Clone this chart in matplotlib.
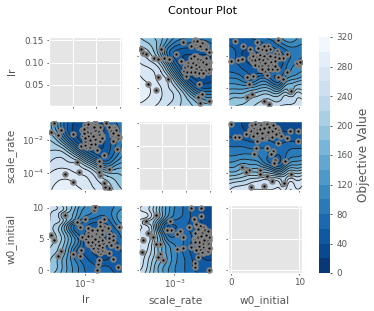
"""Contour plot matrix of three hyperparameters against the objective value."""
import matplotlib
matplotlib.use("Agg")
import matplotlib.pyplot as plt
import numpy as np
from matplotlib.ticker import NullFormatter, NullLocator
from matplotlib.tri import CubicTriInterpolator, Triangulation, UniformTriRefiner

W, H = 374, 311

# axis limits: log10 for lr and scale_rate, plain values for w0_initial
lr_lim = (-4.06, -1.91)
scale_lim = (-5.03, -0.85)
w0_lim = (-0.4, 10.4)

# trial points, read per pair of parameters (log10 for lr and scale_rate)
a_scale = [-4.91, -4.82, -4.63, -4.15, -3.77, -3.96, -3.58, -3.29, -2.91, -2.53, -1.80, -1.57, -1.38, -1.19,
           -1.00, -2.62, -3.96, -3.35, -4.53, -4.05, -2.34, -1.61, -1.42, -1.67, -1.42, -1.53, -1.00,
           -2.34, -2.14, -1.95, -1.76, -1.57, -1.38, -1.19, -1.00, -1.09, -1.28, -1.48, -1.67, -1.86, -2.05,
           -2.24, -1.95, -1.67, -1.38, -1.09, -2.43, -1.76, -1.76, -1.67, -1.48, -1.28, -1.86, -2.05, -1.19,
           -2.05, -1.86, -1.66, -1.48, -1.28, -1.10, -2.24, -1.95, -1.78, -1.58, -1.38, -1.19, -2.40, -2.24,
           -2.03, -1.78, -1.50, -1.20, -1.02, -2.30, -2.05, -1.85, -1.60, -1.35, -1.60, -1.70, -1.40, -1.55]
a_lr = [-2.29, -2.42, -2.44, -2.55, -2.29, -2.60, -2.57, -2.60, -2.44, -2.08, -2.01, -2.13, -2.24, -2.18,
        -2.39, -2.65, -3.17, -3.22, -3.36, -3.57, -3.12, -3.36, -3.09, -3.77, -3.69, -3.98, -3.90,
        -2.76, -2.86, -2.60, -2.50, -2.55, -2.60, -2.55, -2.70, -2.86, -2.81, -2.76, -2.70, -2.81, -2.70,
        -2.91, -2.96, -2.91, -2.94, -3.01, -2.96, -3.07, -2.13, -2.21, -2.24, -2.13, -2.05, -2.18, -2.29,
        -2.55, -2.50, -2.60, -2.62, -2.68, -2.72, -2.72, -2.72, -2.78, -2.85, -2.70, -2.74, -2.85, -2.82,
        -2.86, -2.92, -2.94, -2.93, -2.92, -3.00, -3.00, -3.00, -3.02, -3.04, -2.10, -2.05, -2.10, -2.20]

b_w0 = [0.62, 0.03, 1.10, 1.59, 1.83, 2.81, 3.78, 5.48, 6.94, 8.15, 7.67, 9.85, 9.61, 10.1, 8.15, 7.67, 6.94,
        2.32, 3.29, 2.66, 8.78, 2.32, 3.15, 4.89, 5.58, 5.24, 4.02, 4.51, 5.72, 6.69,
        3.05, 3.53, 4.02, 4.51, 4.99, 5.48, 6.21, 6.94, 3.29, 3.78, 4.26, 4.75, 5.24, 5.72, 4.26, 4.99, 5.96,
        6.69, 2.81, 6.45, 4.51,
        3.3, 3.8, 4.3, 4.8, 5.3, 5.8, 6.5, 7.0, 3.1, 3.6, 4.1, 4.7, 5.2, 5.9, 6.5, 3.6, 4.1, 4.5, 5.0, 5.5,
        6.2, 4.5, 5.4, 6.5, 4.0, 4.9, 5.2]
b_lr = [-2.03, -2.65, -2.63, -2.58, -2.18, -2.29, -2.08, -2.18, -2.01, -2.44, -2.55, -2.78, -2.73, -2.70,
        -3.01, -3.22, -3.15, -3.15, -3.12, -3.36, -3.59, -3.79, -3.69, -3.90, -4.00, -3.09, -2.24, -2.29,
        -2.29, -2.34, -2.44, -2.55, -2.50, -2.44, -2.55, -2.60, -2.60, -2.44, -2.70, -2.76, -2.70, -2.76,
        -2.81, -2.76, -2.91, -2.96, -2.91, -2.91, -2.55, -2.44, -2.60,
        -2.50, -2.52, -2.48, -2.50, -2.60, -2.50, -2.52, -2.55, -2.62, -2.62, -2.60, -2.62, -2.68, -2.68,
        -2.66, -2.78, -2.82, -2.80, -2.72, -2.82, -2.78, -2.90, -2.92, -2.80, -2.25, -2.20, -2.30]

c_w0 = [0.03, 0.62, 1.20, 2.17, 2.95, 4.89, 5.72, 6.69, 8.63, 9.85, 8.15, 6.94, 9.85, 3.78, 3.63, 3.44, 5.24,
        6.21, 5.87, 6.45, 7.91, 6.35, 1.59, 2.66, 2.17, 4.26, 4.26, 8.78, 5.96, 7.81, 2.95, 4.89, 5.24,
        3.29, 3.78, 4.26, 4.75, 5.24, 5.48, 5.96, 4.02, 4.51, 6.45, 7.18, 2.81, 5.72, 6.94, 3.53, 4.99,
        3.1, 3.6, 4.4, 4.9, 5.3, 3.0, 3.4, 3.9, 4.3, 4.8, 5.6, 6.0, 6.5, 7.0, 4.5, 5.0, 5.3, 6.0, 6.6, 7.4,
        5.5, 4.6, 3.2, 6.2]
c_scale = [-1.03, -1.84, -1.84, -1.64, -1.11, -1.03, -1.07, -1.28, -1.48, -1.48, -1.88, -2.19, -2.08, -2.08,
           -2.49, -2.85, -2.49, -2.69, -2.85, -3.20, -3.26, -3.40, -3.66, -3.80, -3.94, -3.80, -4.06, -4.06,
           -4.51, -4.61, -4.87, -4.81, -4.21,
           -1.28, -1.38, -1.18, -1.48, -1.58, -1.28, -1.68, -1.68, -1.78, -1.58, -1.78, -1.38, -1.48, -1.38,
           -1.03, -1.88,
           -1.10, -1.05, -1.10, -1.15, -1.05, -1.45, -1.55, -1.60, -1.35, -1.30, -1.20, -1.45, -1.25, -1.55,
           -1.60, -1.75, -1.65, -1.80, -1.65, -1.75, -1.50, -1.85, -1.75, -1.10]

# objective read on an 11x11 raster of each pair panel, top row first
field_a = [[200, 190, 180, 165, 140, 120, 105, 100, 90, 90, 100],
           [215, 205, 190, 160, 120, 90, 80, 75, 70, 70, 80],
           [235, 225, 200, 150, 90, 60, 50, 50, 50, 50, 60],
           [250, 240, 220, 175, 105, 55, 40, 35, 35, 35, 40],
           [265, 255, 245, 215, 150, 80, 45, 35, 35, 35, 35],
           [275, 270, 260, 240, 190, 120, 60, 35, 30, 30, 35],
           [285, 275, 265, 250, 230, 170, 100, 50, 35, 30, 35],
           [290, 285, 270, 258, 240, 210, 155, 95, 55, 45, 50],
           [290, 285, 275, 262, 248, 232, 200, 150, 105, 85, 85],
           [285, 280, 272, 260, 248, 235, 215, 190, 160, 135, 130],
           [275, 272, 262, 252, 238, 228, 215, 205, 190, 175, 180]]
field_b = [[60, 50, 50, 60, 70, 80, 90, 110, 140, 130, 110],
           [60, 50, 50, 50, 50, 60, 70, 90, 110, 110, 100],
           [70, 60, 40, 40, 40, 40, 50, 60, 80, 90, 90],
           [70, 60, 40, 40, 40, 40, 40, 50, 70, 90, 100],
           [70, 65, 50, 40, 40, 40, 40, 50, 80, 100, 110],
           [80, 75, 65, 55, 50, 50, 60, 65, 90, 110, 120],
           [100, 100, 85, 70, 90, 100, 70, 70, 120, 135, 150],
           [125, 125, 120, 120, 135, 145, 120, 110, 165, 175, 185],
           [150, 155, 155, 170, 180, 190, 175, 175, 195, 205, 210],
           [175, 185, 185, 200, 210, 220, 215, 215, 230, 235, 240],
           [190, 200, 205, 215, 225, 235, 235, 240, 245, 250, 255]]
field_c = [[50, 45, 40, 35, 30, 30, 30, 30, 30, 25, 25],
           [55, 50, 40, 35, 30, 30, 35, 35, 35, 35, 35],
           [60, 55, 50, 40, 40, 40, 40, 45, 45, 45, 45],
           [70, 65, 65, 60, 60, 65, 60, 55, 60, 60, 60],
           [85, 85, 85, 80, 80, 80, 70, 65, 75, 80, 80],
           [100, 100, 105, 105, 100, 85, 70, 60, 85, 95, 100],
           [120, 125, 135, 130, 125, 95, 70, 60, 105, 125, 130],
           [150, 150, 165, 165, 165, 155, 130, 110, 160, 170, 175],
           [180, 185, 195, 205, 205, 210, 205, 195, 215, 220, 225],
           [215, 225, 230, 240, 245, 250, 245, 240, 250, 255, 255],
           [235, 250, 255, 260, 265, 265, 265, 265, 270, 270, 270]]

# single trials that stand out from their surroundings and get closed rings
b_ring = ([8.78], [-3.59], [172])
c_ring = ([7.81, 4.89], [-4.61, -4.81], [222, 238])

levels = list(range(0, 321, 20))
cbar_ticks = list(range(0, 321, 40))

plt.style.use("ggplot")
plt.rcParams["font.size"] = 6.3


def panel(px):
    l, t, r, b = px
    return fig.add_axes([l / W, 1 - b / H, (r - l) / W, (b - t) / H])


def refine_field(field, xlim, ylim, ring):
    nx, ny = len(field[0]), len(field)
    gu, gv = np.meshgrid(np.linspace(0, 1, nx), np.linspace(1, 0, ny))
    u, v, z = gu.ravel(), gv.ravel(), np.array(field, float).ravel()
    if ring is not None:
        u = np.append(u, (np.array(ring[0]) - xlim[0]) / (xlim[1] - xlim[0]))
        v = np.append(v, (np.array(ring[1]) - ylim[0]) / (ylim[1] - ylim[0]))
        z = np.append(z, ring[2])
    tri = Triangulation(u, v)
    interp = CubicTriInterpolator(tri, z, kind="min_E")
    fine, zf = UniformTriRefiner(tri).refine_field(z, triinterpolator=interp, subdiv=3)
    return fine.x, fine.y, fine.triangles, np.clip(zf, 1, 319)


def draw(ax, fine, xlim, ylim, xlog, ylog, px, py, swap=False):
    u, v, triangles, z = fine
    if swap:
        u, v = v, u
    x = xlim[0] + u * (xlim[1] - xlim[0])
    y = ylim[0] + v * (ylim[1] - ylim[0])
    px, py = np.array(px), np.array(py)
    if xlog:
        x, px = 10.0 ** x, 10.0 ** px
        ax.set_xscale("log")
    if ylog:
        y, py = 10.0 ** y, 10.0 ** py
        ax.set_yscale("log")
    t = Triangulation(x, y, triangles)
    cs = ax.tricontourf(t, z, levels=levels, cmap="Blues_r")
    ax.tricontour(t, z, levels=levels, colors="#1a1a1a", linewidths=0.6)
    ax.scatter(px, py, s=10, c="black", edgecolors="#808080", linewidths=1.5, zorder=3)
    ax.set_xlim(10.0 ** xlim[0] if xlog else xlim[0], 10.0 ** xlim[1] if xlog else xlim[1])
    ax.set_ylim(10.0 ** ylim[0] if ylog else ylim[0], 10.0 ** ylim[1] if ylog else ylim[1])
    return cs


def set_ticks(ax, xt, yt, xlabels=False, ylabels=False):
    ax.set_xticks(xt)
    ax.set_yticks(yt)
    ax.xaxis.set_minor_locator(NullLocator())
    ax.yaxis.set_minor_locator(NullLocator())
    if not xlabels:
        ax.xaxis.set_major_formatter(NullFormatter())
    if not ylabels:
        ax.yaxis.set_major_formatter(NullFormatter())
    ax.tick_params(length=1.6, width=0.7, pad=2, labelsize=6.3)


fig = plt.figure(figsize=(W / 100, H / 100), dpi=100)
fig.patch.set_facecolor("white")

cols = [(48.5, 122.5), (139, 212), (228, 302)]
rows = [(37, 106), (121, 190), (205, 273)]
axes = [[panel((c[0], r[0], c[1], r[1])) for c in cols] for r in rows]

fine_a = refine_field(field_a, scale_lim, lr_lim, None)
fine_b = refine_field(field_b, w0_lim, lr_lim, b_ring)
fine_c = refine_field(field_c, w0_lim, scale_lim, c_ring)

cs = draw(axes[0][1], fine_a, scale_lim, lr_lim, True, True, a_scale, a_lr)
draw(axes[1][0], fine_a, lr_lim, scale_lim, True, True, a_lr, a_scale, swap=True)
draw(axes[0][2], fine_b, w0_lim, lr_lim, False, True, b_w0, b_lr)
draw(axes[2][0], fine_b, lr_lim, w0_lim, True, False, b_lr, b_w0, swap=True)
draw(axes[1][2], fine_c, w0_lim, scale_lim, False, True, c_w0, c_scale)
draw(axes[2][1], fine_c, scale_lim, w0_lim, True, False, c_scale, c_w0, swap=True)

# empty diagonal
axes[0][0].set_xlim(0, 1)
axes[0][0].set_ylim(0.0033, 0.1567)
set_ticks(axes[0][0], [0.33, 0.642, 0.96], [0.05, 0.10, 0.15], ylabels=True)
axes[1][1].set_xlim(0, 1)
axes[1][1].set_ylim(0, 1)
set_ticks(axes[1][1], [0.315, 0.644, 0.973], [0.319, 0.638, 0.971])
axes[2][2].set_xlim(*w0_lim)
axes[2][2].set_ylim(*w0_lim)
set_ticks(axes[2][2], [0, 10], [0, 5, 10], xlabels=True)

lr_y = [10.0 ** -2.5, 10.0 ** -3.5]
set_ticks(axes[0][1], [1e-3], lr_y)
set_ticks(axes[0][2], [0, 10], lr_y)
set_ticks(axes[1][0], [1e-3], [1e-2, 1e-4], ylabels=True)
set_ticks(axes[1][2], [0, 10], [1e-2, 1e-4])
set_ticks(axes[2][0], [1e-3], [0, 5, 10], xlabels=True, ylabels=True)
set_ticks(axes[2][1], [1e-3], [0, 5, 10], xlabels=True)

for ax, name in zip(axes[2], ["lr", "scale_rate", "w0_initial"]):
    ax.set_xlabel(name, fontsize=7.6, color="#555555")
    ax.xaxis.set_label_coords(0.5, -0.325, transform=ax.transAxes)
for row, name in zip(axes, ["lr", "scale_rate", "w0_initial"]):
    row[0].set_ylabel(name, fontsize=7.6, color="#555555")
    row[0].yaxis.set_label_coords(-0.43, 0.5, transform=row[0].transAxes)

cax = panel((319, 37, 330, 273))
cbar = fig.colorbar(cs, cax=cax, ticks=cbar_ticks)
cbar.outline.set_visible(False)
cax.tick_params(length=1.6, width=0.7, pad=3, labelsize=6.3)
cax.minorticks_off()
cax.grid(False)
cbar.set_label("Objective Value", fontsize=8.7, color="#555555", labelpad=3)

fig.text(202 / W, 1 - 11 / H, "Contour Plot", ha="center", va="center", fontsize=8, color="black")

fig.savefig("out.png", dpi=100)
plt.close(fig)
